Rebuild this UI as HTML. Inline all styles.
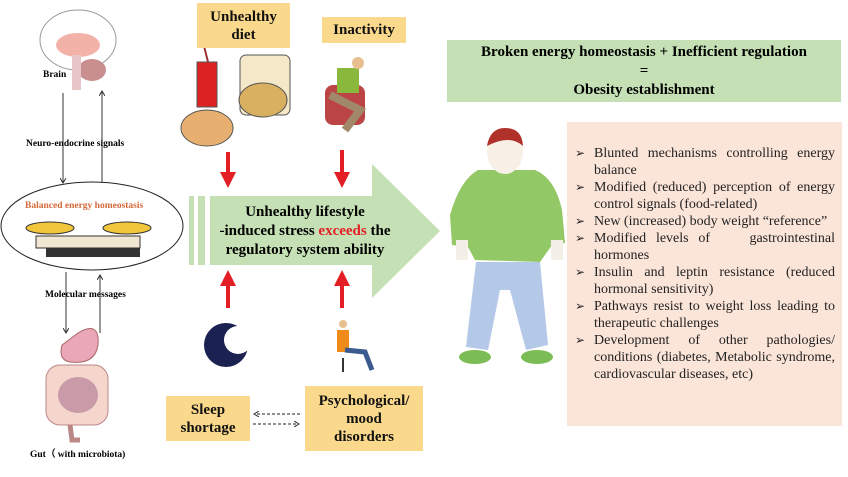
<!DOCTYPE html>
<html><head><meta charset="utf-8"><style>
body{margin:0;width:848px;height:477px;background:#fff;position:relative;overflow:hidden;font-family:"Liberation Serif",serif;}
.a{position:absolute;}
.y{position:absolute;background:#fbd98c;font-weight:bold;color:#111;text-align:center;font-size:15px;line-height:18px;display:flex;align-items:center;justify-content:center;}
.s{font-size:9.5px;font-weight:bold;position:absolute;white-space:nowrap;}
ul{margin:0;padding:0;list-style:none}
li{position:relative;padding-left:19px;text-align:justify;text-align-last:left;font-size:14px;line-height:17px;color:#222}
li:before{content:"➢";position:absolute;left:0;font-size:12px}
</style></head><body>
<svg class="a" style="left:0;top:0" width="848" height="477">
<defs><marker id="ah" markerWidth="6" markerHeight="6" refX="5" refY="3" orient="auto"><path d="M0,0L5,3L0,6" fill="none" stroke="#333" stroke-width="1"/></marker>
<marker id="rh" markerWidth="4" markerHeight="4" refX="2" refY="2" orient="auto"><path d="M0,0L4,2L0,4z" fill="#e31e24"/></marker></defs>
<ellipse cx="78" cy="40" rx="38" ry="30" fill="#fff" stroke="#999"/>
<ellipse cx="78" cy="45" rx="22" ry="12" fill="#f3b2a8"/>
<ellipse cx="92" cy="70" rx="14" ry="11" fill="#c98f8f"/>
<rect x="72" y="55" width="9" height="35" fill="#e6c6c6"/>
<line x1="63" y1="93" x2="63" y2="183" stroke="#333" marker-end="url(#ah)"/>
<line x1="102" y1="183" x2="102" y2="91" stroke="#333" marker-end="url(#ah)"/>
<ellipse cx="92" cy="226" rx="91" ry="44" fill="#fff" stroke="#222"/>
<ellipse cx="50" cy="228" rx="24" ry="6" fill="#f2c63a" stroke="#333"/>
<ellipse cx="127" cy="228" rx="24" ry="6" fill="#f2c63a" stroke="#333"/>
<rect x="36" y="236" width="104" height="12" fill="#efe7d2" stroke="#333"/>
<rect x="46" y="248" width="94" height="9" fill="#333"/>
<line x1="66" y1="272" x2="66" y2="333" stroke="#333" marker-end="url(#ah)"/>
<line x1="100" y1="333" x2="100" y2="275" stroke="#333" marker-end="url(#ah)"/>
<path d="M78 333 Q100 320 98 345 Q95 365 70 362 Q58 360 62 345z" fill="#e9a7b7" stroke="#a66"/>
<rect x="46" y="365" width="62" height="60" rx="14" fill="#f4d6cc" stroke="#b88"/>
<ellipse cx="78" cy="395" rx="20" ry="18" fill="#c99aa8"/>
<path d="M70 425 L72 440 L80 440" stroke="#b88" stroke-width="5" fill="none"/>
<rect x="197" y="62" width="20" height="45" fill="#d22" stroke="#555"/>
<line x1="200" y1="30" x2="208" y2="62" stroke="#933" stroke-width="2"/>
<rect x="240" y="55" width="50" height="60" rx="6" fill="#f4e8c8" stroke="#555"/>
<ellipse cx="263" cy="100" rx="24" ry="17" fill="#d8b060" stroke="#555"/>
<ellipse cx="207" cy="128" rx="26" ry="18" fill="#e8b070" stroke="#555"/>
<rect x="325" y="85" width="40" height="40" rx="8" fill="#b44" />
<rect x="337" y="68" width="22" height="25" fill="#8ab83c"/>
<circle cx="358" cy="63" r="6" fill="#e8c090"/>
<path d="M330 95 L360 110 L345 130" stroke="#a08868" stroke-width="8" fill="none"/>
<rect x="189" y="196" width="5" height="69" fill="#c5e0b4"/><rect x="198" y="196" width="7" height="69" fill="#c5e0b4"/>
<path d="M210 196 L372 196 L372 164 L440 231 L372 298 L372 265 L210 265z" fill="#c5e0b4"/>
<g stroke="#e31e24" stroke-width="4" marker-end="url(#rh)">
<line x1="228" y1="152" x2="228" y2="180"/><line x1="342" y1="150" x2="342" y2="180"/>
<line x1="228" y1="308" x2="228" y2="278"/><line x1="342" y1="308" x2="342" y2="278"/>
</g>
<circle cx="226" cy="345" r="22" fill="#1b2150"/><circle cx="238" cy="340" r="14" fill="#fff"/>
<rect x="337" y="330" width="12" height="22" fill="#f08a1a"/><circle cx="343" cy="324" r="4" fill="#e8c090"/>
<path d="M345 350 L365 352 L372 370" stroke="#3a5a90" stroke-width="5" fill="none"/>
<line x1="343" y1="358" x2="343" y2="372" stroke="#333" stroke-width="2"/>
<line x1="300" y1="414" x2="254" y2="414" stroke="#222" stroke-dasharray="3,2" marker-end="url(#ah)"/>
<line x1="253" y1="424" x2="299" y2="424" stroke="#222" stroke-dasharray="3,2" marker-end="url(#ah)"/>
<path d="M478 170 Q460 180 450 215 L452 245 L468 247 L475 260 L540 262 L552 245 L565 243 L562 210 Q555 178 535 170z" fill="#93c866"/>
<rect x="456" y="240" width="12" height="20" fill="#f4f0e8"/><rect x="551" y="240" width="12" height="20" fill="#f4f0e8"/>
<ellipse cx="505" cy="152" rx="18" ry="22" fill="#f8f0e6"/>
<path d="M487 146 Q490 128 505 128 Q522 128 523 146 Q510 134 487 146z" fill="#b0302a"/>
<path d="M476 262 L540 262 L548 345 L526 350 L510 290 L500 290 L488 350 L466 347z" fill="#b4c8e8"/>
<ellipse cx="475" cy="357" rx="16" ry="7" fill="#7cbc55"/><ellipse cx="537" cy="357" rx="16" ry="7" fill="#7cbc55"/>
</svg>
<div class="s" style="left:43px;top:70px">Brain</div>
<div class="s" style="left:26px;top:139px">Neuro-endocrine signals</div>
<div class="s" style="left:25px;top:201px;color:#d2693a">Balanced energy homeostasis</div>
<div class="s" style="left:45px;top:290px">Molecular messages</div>
<div class="s" style="left:30px;top:446px">Gut（ with microbiota)</div>
<div class="y" style="left:197px;top:3px;width:93px;height:45px">Unhealthy<br>diet</div>
<div class="y" style="left:322px;top:17px;width:84px;height:26px">Inactivity</div>
<div class="y" style="left:166px;top:396px;width:84px;height:45px">Sleep<br>shortage</div>
<div class="y" style="left:305px;top:386px;width:118px;height:65px">Psychological/<br>mood<br>disorders</div>
<div class="a" style="left:205px;top:203px;width:200px;text-align:center;font-weight:bold;font-size:15px;line-height:19px;white-space:nowrap">Unhealthy lifestyle<br>-induced stress <span style="color:#e31e24">exceeds</span> the<br>regulatory system ability</div>
<div class="a" style="left:447px;top:40px;width:394px;height:62px;background:#c5e0b4;text-align:center;font-weight:bold;font-size:15px;line-height:19px;padding-top:3px;box-sizing:border-box">Broken energy homeostasis + Inefficient regulation<br>=<br>Obesity establishment</div>
<div class="a" style="left:567px;top:122px;width:275px;height:304px;background:#fbe4d8;box-sizing:border-box;padding:23px 7px 0 8px">
<ul>
<li>Blunted mechanisms controlling energy balance</li>
<li>Modified (reduced) perception of energy control signals (food-related)</li>
<li>New (increased) body weight “reference”</li>
<li>Modified levels of &nbsp;&nbsp; gastrointestinal hormones</li>
<li>Insulin and leptin resistance (reduced hormonal sensitivity)</li>
<li>Pathways resist to weight loss leading to therapeutic challenges</li>
<li>Development of other pathologies/ conditions (diabetes, Metabolic syndrome, cardiovascular diseases, etc)</li>
</ul></div>
</body></html>
